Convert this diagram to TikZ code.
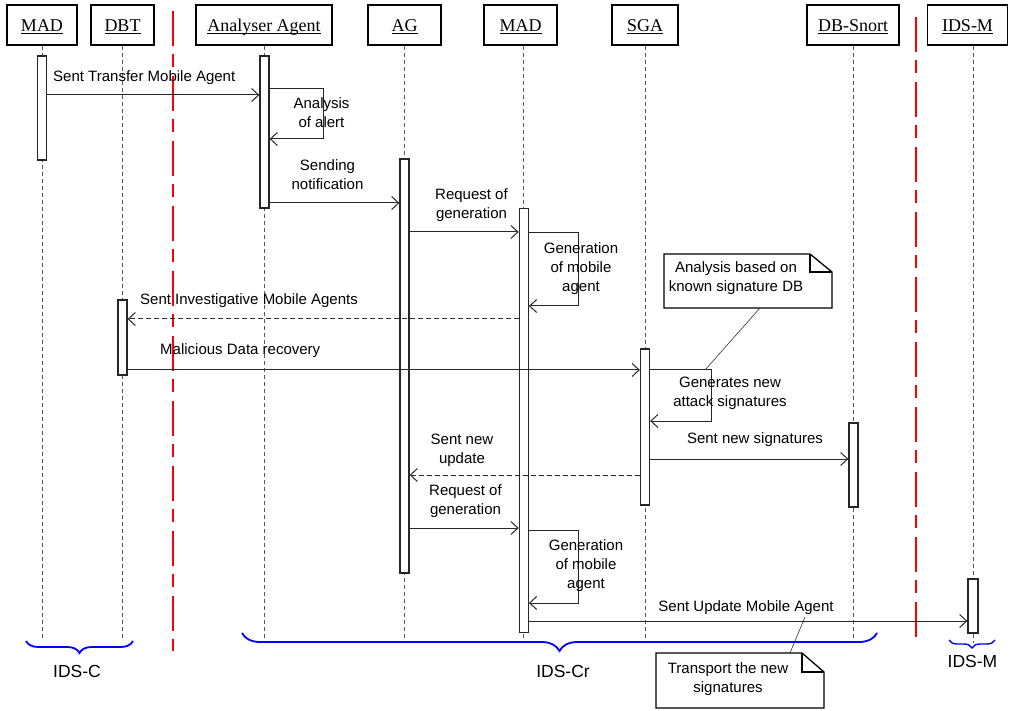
\documentclass[tikz,border=0pt]{standalone}
\usepackage{fontspec}
\setmainfont{Liberation Serif}
\setsansfont{Liberation Sans}
\usetikzlibrary{arrows.meta,decorations.pathreplacing}
\pgfdeclarelayer{lifelines}
\pgfsetlayers{lifelines,main}

\begin{document}
\begin{tikzpicture}[x=1pt,y=-1pt,
  head/.style={draw, line width=1.6pt, minimum height=40pt, inner sep=0pt,
    font=\rmfamily\fontsize{18}{20}\selectfont, text height=14pt, text depth=0.6pt},
  bar/.style={draw=black!85, fill=white, line width=1.3pt, minimum width=9pt, inner sep=0pt},
  life/.style={draw=black!65, line width=0.9pt, dash pattern=on 4pt off 3pt},
  msg/.style={draw=black!85, line width=1pt, -{Straight Barb[length=7pt,width=13pt]}},
  reply/.style={msg, dash pattern=on 5pt off 3pt},
  lbl/.style={font=\sffamily\fontsize{15}{19}\selectfont, inner sep=0pt, align=center},
  note/.style={draw=black, line width=1.3pt, fill=white, line join=miter},
  notelink/.style={draw=black!80, line width=0.6pt},
  sep/.style={draw=red, line width=2.2pt, dash pattern=on 35pt off 8pt on 13pt off 9pt},
  idsbrace/.style={draw=blue, line width=1.8pt, decorate,
    decoration={brace, mirror, amplitude=#1}},
  grouplbl/.style={font=\sffamily\fontsize{17.5}{20}\selectfont, inner sep=0pt, anchor=base},
]
\useasboundingbox (0,0) rectangle (1010,711);

% lifeline heads
\node[head, minimum width=70pt]  (hMADa) at (42,25)    {\underbar{MAD}};
\node[head, minimum width=63pt]  (hDBT)  at (122.5,25) {\underbar{DBT}};
\node[head, minimum width=136pt] (hAna)  at (264,25)   {\underbar{Analyser Agent}};
\node[head, minimum width=73pt]  (hAG)   at (404.5,25) {\underbar{AG}};
\node[head, minimum width=73pt]  (hMADb) at (520.5,25) {\underbar{MAD}};
\node[head, minimum width=66pt]  (hSGA)  at (645,25)   {\underbar{SGA}};
\node[head, minimum width=92pt]  (hDBS)  at (853,25)   {\underbar{DB-Snort}};
\node[head, minimum width=80pt]  (hIDSM) at (967.5,25) {\underbar{IDS-M}};

% activation bars
\node[bar, minimum height=104pt] (bMADa) at (42,108)      {};
\node[bar, minimum height=75pt]  (bDBT)  at (122.5,337.5) {};
\node[bar, minimum height=152pt] (bAna)  at (264.5,132)   {};
\node[bar, minimum height=414pt] (bAG)   at (404.5,366)   {};
\node[bar, minimum height=424pt] (bMADb) at (523.8,420.5) {};
\node[bar, minimum height=156pt] (bSGA)  at (645,427)     {};
\node[bar, minimum height=84pt]  (bDBS)  at (853.5,465)   {};
\node[bar, minimum height=54pt, minimum width=10pt] (bIDSM) at (973,606) {};

% lifelines, behind the bars
\coordinate (lend) at (0,638);
\coordinate (lendM) at (0,643);
\begin{pgfonlayer}{lifelines}
\foreach \h/\b in {hMADa/bMADa, hDBT/bDBT, hAna/bAna, hAG/bAG, hMADb/bMADb, hSGA/bSGA, hDBS/bDBS}{
  \draw[life] (\h.south -| \b.center) -- (\b.center |- lend);
}
\draw[life] (hIDSM.south -| bIDSM.center) -- (bIDSM.center |- lendM);
\end{pgfonlayer}

% domain separators
\draw[sep] (173.3,11) -- (173.3,651);
\draw[sep] (916,17) -- (916,644);

% messages
\draw[msg] (bMADa.east |- 0,95) -- (bAna.west |- 0,95);
\node[lbl, anchor=base west] (t1) at (53,81.5) {Sent Transfer Mobile Agent};

\draw[msg] (bAna.east |- 0,89) -- (323,89) -- (323,139) -- (bAna.east |- 0,139);
\node[lbl] (t2) at (321.5,113) {Analysis\\of alert};

\draw[msg] (bAna.east |- 0,203) -- (bAG.west |- 0,203);
\node[lbl] (t3) at (327.5,175) {Sending\\notification};

\draw[msg] (bAG.east |- 0,232) -- (bMADb.west |- 0,232);
\node[lbl] (t4) at (471.5,205.4) {Request of\\generation};

\draw[msg] (bMADb.east |- 0,233) -- (578,233) -- (578,306) -- (bMADb.east |- 0,306);
\node[lbl] (t5) at (581,268.3) {Generation\\of mobile\\agent};

\draw[reply] (bMADb.west |- 0,319) -- (bDBT.east |- 0,319);
\node[lbl, anchor=base west] (t6) at (140,305) {Sent Investigative Mobile Agents};

\draw[msg] (bDBT.east |- 0,370) -- (bSGA.west |- 0,370);
\node[lbl, anchor=base west] (t7) at (160,355) {Malicious Data recovery};

\draw[msg] (bSGA.east |- 0,370) -- (711,370) -- (711,421) -- (bSGA.east |- 0,421);
\node[lbl] (t8) at (730,393.5) {Generates new\\attack signatures};

\draw[msg] (bSGA.east |- 0,459) -- (bDBS.west |- 0,459);
\node[lbl, anchor=base] (t9) at (755,443.5) {Sent new signatures};

\draw[reply] (bSGA.west |- 0,475) -- (bAG.east |- 0,475);
\node[lbl] (t10) at (462,450.5) {Sent new\\update};

\draw[msg] (bAG.east |- 0,528) -- (bMADb.west |- 0,528);
\node[lbl] (t11) at (465.5,501.4) {Request of\\generation};

\draw[msg] (bMADb.east |- 0,530) -- (578,530) -- (578,603) -- (bMADb.east |- 0,603);
\node[lbl] (t12) at (586,565.3) {Generation\\of mobile\\agent};

\draw[msg] (bMADb.east |- 0,621) -- (bIDSM.west |- 0,621);
\node[lbl, anchor=base] (t13) at (746,611) {Sent Update Mobile Agent};

% notes
\draw[note] (664,254) -- (810,254) -- (832,272) -- (832,308) -- (664,308) -- cycle;
\draw[note, fill=none] (810,254) -- (810,272) -- (832,272);
\node[lbl] (n1) at (736,278.5) {Analysis based on\\known signature DB};
\coordinate (n1foot) at (760,308);
\coordinate (n1tip) at (705,370);
\draw[notelink] (n1foot) -- (n1tip);

\draw[note] (656,653) -- (802,653) -- (824,672) -- (824,708) -- (656,708) -- cycle;
\draw[note, fill=none] (802,653) -- (802,672) -- (824,672);
\node[lbl] (n2) at (728,679) {Transport the new\\signatures};
\coordinate (n2foot) at (790,653);
\coordinate (n2tip) at (805,617);
\draw[notelink] (n2foot) -- (n2tip);

% system groups
\draw[idsbrace=12] (26,641) -- (133,641);
\node[grouplbl] (gC) at (77,677) {IDS-C};
\draw[idsbrace=18] (242,633) -- (877,633);
\node[grouplbl] (gCr) at (563,677) {IDS-Cr};
\draw[idsbrace=8, line width=1.4pt] (949,640) -- (995,640);
\node[grouplbl] (gM) at (972.5,667) {IDS-M};
\end{tikzpicture}
\end{document}
